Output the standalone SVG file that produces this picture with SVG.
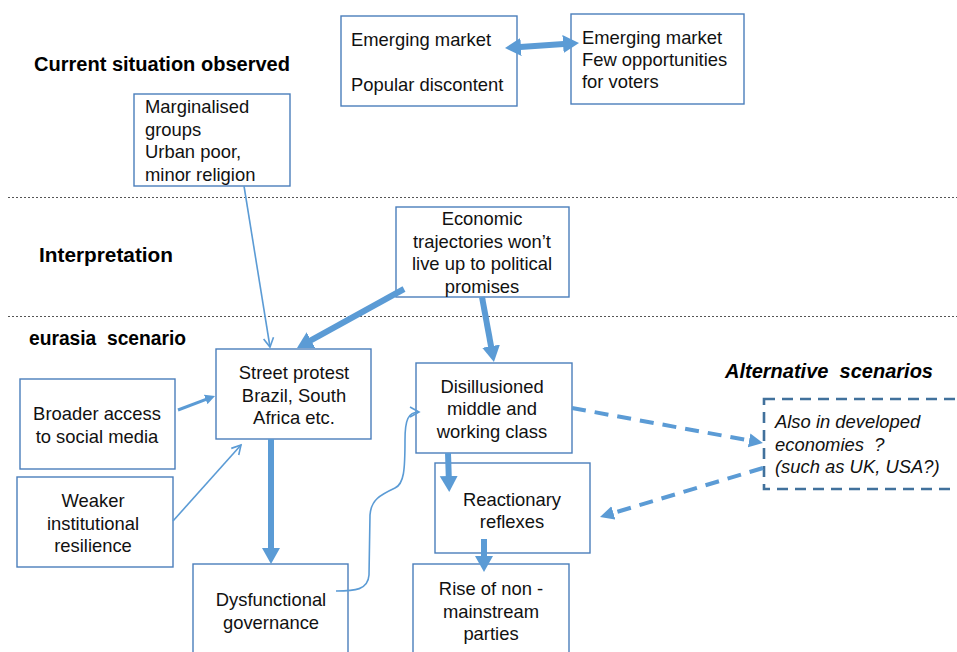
<svg xmlns="http://www.w3.org/2000/svg" width="957" height="652" viewBox="0 0 957 652">
<style>
  .box { fill: #ffffff; stroke: #4a7ebb; stroke-width: 1.4; }
  .dbox { fill: #ffffff; stroke: #41719c; stroke-width: 2.6; stroke-dasharray: 11 7; }
  .t { font-family: "Liberation Sans", Arial, sans-serif; font-size: 18.4px; fill: #111; }
  .c { text-anchor: middle; }
  .i { font-style: italic; }
  .h { font-family: "Liberation Sans", Arial, sans-serif; font-size: 20px; font-weight: bold; fill: #000; }
  .sep { stroke: #555; stroke-width: 1; stroke-dasharray: 2 2; fill: none; }
  .thick { stroke: #5b9bd5; stroke-width: 6; fill: none; }
  .med { stroke: #5b9bd5; stroke-width: 3; fill: none; }
  .thin { stroke: #5b9bd5; stroke-width: 1.6; fill: none; }
  .dash { stroke: #5b9bd5; stroke-width: 4; fill: none; stroke-dasharray: 14 9; }
</style>
<defs>
  <marker id="hThick" markerUnits="userSpaceOnUse" markerWidth="17" markerHeight="19" refX="8" refY="9" orient="auto-start-reverse" viewBox="0 0 17 18">
    <path d="M0,0 L16,9 L0,18 z" fill="#5b9bd5"/>
  </marker>
  <marker id="hMed" markerUnits="userSpaceOnUse" markerWidth="11" markerHeight="11" refX="6" refY="5" orient="auto" viewBox="0 0 11 10">
    <path d="M0,0 L10,5 L0,10 z" fill="#5b9bd5"/>
  </marker>
  <marker id="hDash" markerUnits="userSpaceOnUse" markerWidth="15" markerHeight="15" refX="7" refY="7" orient="auto" viewBox="0 0 15 14">
    <path d="M0,0 L14,7 L0,14 z" fill="#5b9bd5"/>
  </marker>
  <marker id="hOpen" markerUnits="userSpaceOnUse" markerWidth="12" markerHeight="12" refX="9" refY="5" orient="auto" viewBox="-1 -1 12 12">
    <path d="M0,0 L9,5 L0,10" fill="none" stroke="#5b9bd5" stroke-width="1.6"/>
  </marker>
</defs>

<rect width="957" height="652" fill="#ffffff"/>

<!-- section separators and headings -->
<g id="sections">
  <line class="sep" x1="8" y1="197.5" x2="957" y2="197.5"/>
  <line class="sep" x1="8" y1="316.5" x2="957" y2="316.5"/>
  <text class="h" x="34" y="71" textLength="256" lengthAdjust="spacingAndGlyphs">Current situation observed</text>
  <text class="h" x="39" y="262" textLength="134" lengthAdjust="spacingAndGlyphs">Interpretation</text>
  <text class="h" x="29" y="345" textLength="157" lengthAdjust="spacingAndGlyphs">eurasia&#160; scenario</text>
  <text class="h i" x="725" y="378" textLength="208" lengthAdjust="spacingAndGlyphs">Alternative&#160; scenarios</text>
</g>

<g id="n-emerging1">
  <rect class="box" x="341" y="16" width="176" height="90"/>
  <text class="t" x="351" y="46">Emerging market</text>
  <text class="t" x="351" y="91">Popular discontent</text>
</g>
<g id="n-emerging2">
  <rect class="box" x="571" y="14" width="173" height="90"/>
  <text class="t" x="582" y="44">Emerging market</text>
  <text class="t" x="582" y="66">Few opportunities</text>
  <text class="t" x="582" y="88">for voters</text>
</g>
<g id="n-marginalised">
  <rect class="box" x="134" y="94" width="156" height="92"/>
  <text class="t" x="145" y="113">Marginalised</text>
  <text class="t" x="145" y="136">groups</text>
  <text class="t" x="145" y="158">Urban poor,</text>
  <text class="t" x="145" y="181">minor religion</text>
</g>
<g id="n-economic">
  <rect class="box" x="396" y="207" width="173" height="90"/>
  <text class="t c" x="482" y="225">Economic</text>
  <text class="t c" x="482" y="248">trajectories won’t</text>
  <text class="t c" x="482" y="270">live up to political</text>
  <text class="t c" x="482" y="293">promises</text>
</g>
<g id="n-street">
  <rect class="box" x="216" y="349" width="155" height="90"/>
  <text class="t c" x="294" y="379">Street protest</text>
  <text class="t c" x="294" y="402">Brazil, South</text>
  <text class="t c" x="294" y="424">Africa etc.</text>
</g>
<g id="n-broader">
  <rect class="box" x="20" y="379" width="155" height="90"/>
  <text class="t c" x="97" y="420">Broader access</text>
  <text class="t c" x="97" y="443">to social media</text>
</g>
<g id="n-weaker">
  <rect class="box" x="17" y="477" width="156" height="90"/>
  <text class="t c" x="93" y="507">Weaker</text>
  <text class="t c" x="93" y="530">institutional</text>
  <text class="t c" x="93" y="552">resilience</text>
</g>
<g id="n-dysfunctional">
  <rect class="box" x="193" y="564" width="155" height="100"/>
  <text class="t c" x="271" y="606">Dysfunctional</text>
  <text class="t c" x="271" y="629">governance</text>
</g>
<g id="n-disillusioned">
  <rect class="box" x="416" y="363" width="156" height="90"/>
  <text class="t c" x="492" y="393">Disillusioned</text>
  <text class="t c" x="492" y="415">middle and</text>
  <text class="t c" x="492" y="438">working class</text>
</g>
<g id="n-reactionary">
  <rect class="box" x="435" y="463" width="155" height="90"/>
  <text class="t c" x="512" y="506">Reactionary</text>
  <text class="t c" x="512" y="528">reflexes</text>
</g>
<g id="n-rise">
  <rect class="box" x="413" y="564" width="156" height="100"/>
  <text class="t c" x="491" y="595">Rise of non -</text>
  <text class="t c" x="491" y="618">mainstream</text>
  <text class="t c" x="491" y="640">parties</text>
</g>
<g id="n-also">
  <rect class="dbox" x="764" y="399" width="210" height="90"/>
  <text class="t i" x="775" y="428">Also in developed</text>
  <text class="t i" x="775" y="451">economies&#160; ?</text>
  <text class="t i" x="775" y="473">(such as UK, USA?)</text>
</g>

<g id="connectors">
  <line class="thick" x1="513" y1="47.5" x2="571" y2="43.5" marker-start="url(#hThick)" marker-end="url(#hThick)"/>
  <line class="thin" x1="244" y1="186" x2="270" y2="347" marker-end="url(#hOpen)"/>
  <line class="thick" x1="404" y1="289" x2="304" y2="344.1" marker-end="url(#hThick)"/>
  <line class="thick" x1="482" y1="297" x2="492.5" y2="354.1" marker-end="url(#hThick)"/>
  <line class="med" x1="178" y1="410" x2="211.3" y2="397.4" marker-end="url(#hMed)"/>
  <line class="thin" x1="173" y1="521" x2="241" y2="445" marker-end="url(#hOpen)"/>
  <line class="thick" x1="271" y1="439" x2="271" y2="556" marker-end="url(#hThick)"/>
  <path class="thin" d="M336,591 C355,591 368,590 369,575 L370,515 C371,500 380,495 395,488 C404,484 405,470 405,440 C405,420 408,412 419,412" marker-end="url(#hOpen)"/>
  <line class="thick" x1="448" y1="453" x2="449" y2="484" marker-end="url(#hThick)"/>
  <line class="thick" x1="484" y1="539" x2="484" y2="564" marker-end="url(#hThick)"/>
  <line class="dash" x1="572" y1="408" x2="756" y2="441.7" marker-end="url(#hDash)"/>
  <line class="dash" x1="763" y1="468" x2="606.7" y2="515" marker-end="url(#hDash)"/>
</g>
</svg>
